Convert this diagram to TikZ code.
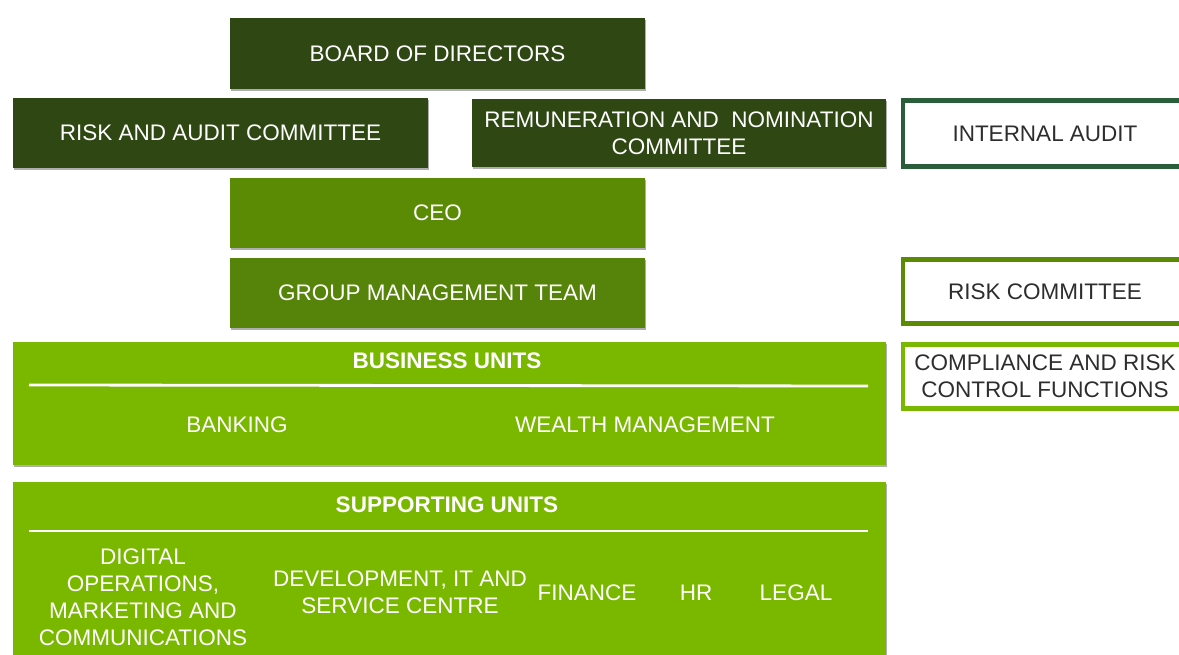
\documentclass[tikz,border=0pt]{standalone}
\usepackage{fontspec}
\setmainfont{Liberation Sans}
\usetikzlibrary{shadows}
\definecolor{boardgreen}{RGB}{47,72,19}
\definecolor{execgreen}{RGB}{91,139,4}
\definecolor{teamgreen}{RGB}{86,131,10}
\definecolor{unitgreen}{RGB}{122,184,0}
\definecolor{auditgreen}{RGB}{42,94,58}
\definecolor{labelgray}{RGB}{45,45,45}

\begin{document}
\begin{tikzpicture}[x=0.025cm, y=-0.025cm,
  block/.style={rectangle, inner sep=0pt, text=white, align=center,
    font=\fontsize{16}{19.2}\selectfont,
    drop shadow={shadow xshift=0.6pt, shadow yshift=-1.4pt, opacity=0.45, fill=black!70}},
  sidebox/.style={rectangle, draw=#1, line width=3pt, fill=white, inner sep=0pt,
    text=labelgray, align=center, font=\fontsize{16}{19.2}\selectfont,
    minimum width=7.1cm, minimum height=1.6cm},
  unittxt/.style={text=white, align=center, inner sep=0pt, font=\fontsize{16}{19.2}\selectfont},
  headtxt/.style={unittxt, font=\fontsize{16}{19.2}\selectfont\bfseries},
  sep/.style={white, line width=2pt}]
  \useasboundingbox (0,0) rectangle (1179,655);
  \clip (0,0) rectangle (1179,655);

  % governing bodies
  \node[block, fill=boardgreen, minimum width=10.375cm, minimum height=1.775cm] (board) at (437.5,53.5) {BOARD OF DIRECTORS};
  \node[block, fill=boardgreen, minimum width=10.375cm, minimum height=1.75cm] (riskaudit) at (220.5,133) {RISK AND AUDIT COMMITTEE};
  \node[block, fill=boardgreen, minimum width=10.35cm, minimum height=1.7cm] (remnom) at (679,133) {REMUNERATION AND\ \ NOMINATION\\COMMITTEE};
  \node[block, fill=execgreen, minimum width=10.375cm, minimum height=1.75cm] (ceo) at (437.5,213) {CEO};
  \node[block, fill=teamgreen, minimum width=10.375cm, minimum height=1.75cm] (gmt) at (437.5,293) {GROUP MANAGEMENT TEAM};

  % control functions on the right
  \node[sidebox=auditgreen, minimum height=1.65cm] (intaudit) at (1045,133.5) {INTERNAL AUDIT};
  \node[sidebox=execgreen] (riskcom) at (1045,291.5) {RISK COMMITTEE};
  \node[sidebox=unitgreen] (compliance) at (1045,376.5) {COMPLIANCE AND RISK\\CONTROL FUNCTIONS};

  % business units
  \node[block, fill=unitgreen, minimum width=21.825cm, minimum height=3.075cm] (business) at (449.5,403.5) {};
  \node[headtxt] (busihead) at (447,361) {BUSINESS UNITS};
  \draw[sep] (29,385) -- (868,386);
  \foreach \x/\name/\txt in {237/banking/BANKING, 645/wealth/WEALTH MANAGEMENT}
    \node[unittxt] (\name) at (\x,425) {\txt};

  % supporting units
  \node[block, fill=unitgreen, minimum width=21.825cm, minimum height=5cm] (supporting) at (449.5,582) {};
  \node[headtxt] (supphead) at (447,505) {SUPPORTING UNITS};
  \draw[sep] (29,531) -- (868,531);
  \foreach \x/\y/\name/\txt in {143/597.5/digital/{DIGITAL\\OPERATIONS,\\MARKETING AND\\COMMUNICATIONS},
      400/592.5/devit/{DEVELOPMENT, IT AND\\SERVICE CENTRE},
      587/593/finance/FINANCE, 696/593/hr/HR, 796/593/legal/LEGAL}
    \node[unittxt] (\name) at (\x,\y) {\txt};
\end{tikzpicture}
\end{document}
